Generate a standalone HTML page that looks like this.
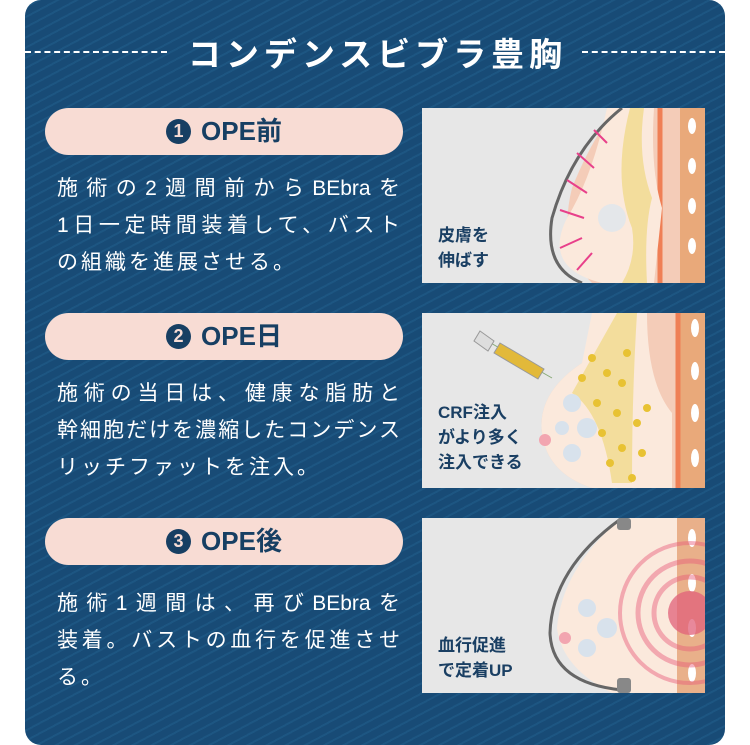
<!DOCTYPE html>
<html><head><meta charset="utf-8"><style>
*{margin:0;padding:0;box-sizing:border-box}
body{width:750px;height:735px;background:#fff;position:relative;overflow:hidden;font-family:"Liberation Sans","Noto Sans CJK JP",sans-serif}
.panel{position:absolute;left:25px;top:0;width:700px;height:745px;border-radius:16px;background:repeating-linear-gradient(-28deg,#184b76 0 7px,#1d5682 7px 9px);}
.title{position:absolute;left:0;width:750px;top:28px;text-align:center;color:#fff;font-size:33px;font-weight:bold;letter-spacing:5px;padding-left:5px}
.dash{position:absolute;top:51px;height:0;border-top:2px dashed #fff}
.pill{position:absolute;left:45px;width:358px;height:47px;border-radius:24px;background:#f8dcd4;color:#173f63;font-size:26px;font-weight:bold;text-align:center;line-height:47px}
.pill b{display:inline-block;width:25px;height:25px;border-radius:50%;background:#173f63;color:#f8dcd4;font-size:18px;line-height:25px;vertical-align:3px;margin-right:10px}
.txt{position:absolute;left:57px;width:343px;color:#fff;font-size:21px;line-height:37px}
.txt div{text-align:justify;text-align-last:justify;text-justify:inter-character;white-space:nowrap}
.txt div.l{text-align-last:left;letter-spacing:3px}
.img{position:absolute;left:422px;width:283px;height:175px;background:#e7e7e7;overflow:hidden}
.lab{position:absolute;left:16px;color:#1a3f63;font-size:17px;font-weight:bold;line-height:25px}
</style></head><body>
<div class="panel"></div>
<div class="dash" style="left:25px;width:142px"></div>
<div class="dash" style="left:582px;width:143px"></div>
<div class="title">コンデンスビブラ豊胸</div>

<div class="pill" style="top:108px"><b>1</b>OPE前</div>
<div class="txt" style="top:170px"><div>施術の2週間前からBEbraを</div><div>1日一定時間装着して、バスト</div><div class="l">の組織を進展させる。</div></div>
<div class="img" style="top:108px">
<svg width="283" height="175">
<rect x="230" y="0" width="53" height="175" fill="#e9a97a"/>
<g fill="#fff">
<ellipse cx="270" cy="18" rx="4" ry="8"/><ellipse cx="270" cy="58" rx="4" ry="8"/><ellipse cx="270" cy="98" rx="4" ry="8"/><ellipse cx="270" cy="138" rx="4" ry="8"/></g>
<path d="M195 0 L258 0 L258 175 L170 175 Q135 140 150 80 Q170 30 195 0Z" fill="#f4ccb8"/>
<path d="M238 0 L238 175" stroke="#ef7f55" stroke-width="5"/>
<path d="M185 0 L232 0 Q228 60 240 100 L232 175 L180 175 Q120 160 145 110 Q170 70 185 0Z" fill="#fbe9dc"/>
<path d="M208 0 Q190 70 210 120 Q215 150 200 175 L225 175 Q222 120 230 90 Q215 50 222 0Z" fill="#f3dd9c"/>
<circle cx="190" cy="110" r="14" fill="#dfe6ee" opacity=".8"/>
<path d="M200 0 Q150 40 130 110 Q122 160 160 175" fill="none" stroke="#666" stroke-width="3"/>
<g stroke="#e8408a" stroke-width="2">
<line x1="185" y1="35" x2="172" y2="22"/><line x1="172" y1="60" x2="155" y2="45"/><line x1="165" y1="85" x2="145" y2="72"/><line x1="162" y1="110" x2="138" y2="102"/><line x1="160" y1="130" x2="138" y2="140"/><line x1="170" y1="145" x2="155" y2="162"/></g>
</svg>
<div class="lab" style="top:115px">皮膚を<br>伸ばす</div></div>

<div class="pill" style="top:313px"><b>2</b>OPE日</div>
<div class="txt" style="top:375px"><div>施術の当日は、健康な脂肪と</div><div>幹細胞だけを濃縮したコンデンス</div><div class="l">リッチファットを注入。</div></div>
<div class="img" style="top:313px">
<svg width="283" height="175">
<rect x="232" y="0" width="51" height="175" fill="#e9a97a"/>
<g fill="#fff"><ellipse cx="273" cy="15" rx="4" ry="9"/><ellipse cx="273" cy="58" rx="4" ry="9"/><ellipse cx="273" cy="100" rx="4" ry="9"/><ellipse cx="273" cy="145" rx="4" ry="9"/></g>
<path d="M175 0 L255 0 L255 175 L170 175 Q125 160 120 120 Q115 80 160 50Z" fill="#f4ccb8"/>
<path d="M256 0 L256 175" stroke="#ef7f55" stroke-width="5"/>
<path d="M170 0 L225 0 Q225 70 250 100 L250 175 L170 175 Q125 160 120 120 Q115 80 160 50Z" fill="#fbe9dc"/>
<path d="M195 0 L215 0 Q210 80 210 170 L190 170 Q180 100 150 80Z" fill="#f3dd9c"/>
<g fill="#e8c233"><circle cx="170" cy="45" r="4"/><circle cx="185" cy="60" r="4"/><circle cx="200" cy="70" r="4"/><circle cx="175" cy="90" r="4"/><circle cx="195" cy="100" r="4"/><circle cx="215" cy="110" r="4"/><circle cx="180" cy="120" r="4"/><circle cx="200" cy="135" r="4"/><circle cx="220" cy="140" r="4"/><circle cx="210" cy="165" r="4"/><circle cx="160" cy="65" r="4"/><circle cx="225" cy="95" r="4"/><circle cx="188" cy="150" r="4"/><circle cx="205" cy="40" r="4"/></g>
<g fill="#d8e2ec"><circle cx="150" cy="90" r="9"/><circle cx="165" cy="115" r="10"/><circle cx="150" cy="140" r="9"/><circle cx="140" cy="115" r="7"/></g>
<circle cx="123" cy="127" r="6" fill="#f2a5b0"/>
<line x1="60" y1="25" x2="130" y2="65" stroke="#8a7" stroke-width="1"/>
<path d="M78 30 L122 56 L116 66 L72 40Z" fill="#e2b93a" stroke="#999"/>
<path d="M58 18 L72 28 L66 38 L52 28Z" fill="#ddd" stroke="#999"/>
</svg>
<div class="lab" style="top:87px">CRF注入<br>がより多く<br>注入できる</div></div>

<div class="pill" style="top:518px"><b>3</b>OPE後</div>
<div class="txt" style="top:585px"><div>施術1週間は、再びBEbraを</div><div>装着。バストの血行を促進させ</div><div class="l">る。</div></div>
<div class="img" style="top:518px">
<svg width="283" height="175">
<path d="M200 0 L283 0 L283 175 L190 175 Q140 150 135 110 Q140 50 200 0Z" fill="#fbe9dc"/>
<rect x="255" y="0" width="28" height="175" fill="#e9b08a"/>
<g fill="#fff"><ellipse cx="270" cy="20" rx="4" ry="9"/><ellipse cx="270" cy="65" rx="4" ry="9"/><ellipse cx="270" cy="110" rx="4" ry="9"/><ellipse cx="270" cy="155" rx="4" ry="9"/></g>
<g fill="none" stroke="#e85a7a" opacity=".45"><circle cx="268" cy="95" r="70" stroke-width="4"/><circle cx="268" cy="95" r="52" stroke-width="5"/><circle cx="268" cy="95" r="36" stroke-width="5"/></g>
<circle cx="268" cy="95" r="22" fill="#e0607a" opacity=".75"/>
<g fill="#d8e2ec"><circle cx="165" cy="90" r="9"/><circle cx="185" cy="110" r="10"/><circle cx="165" cy="130" r="9"/></g>
<circle cx="143" cy="120" r="6" fill="#f2a5b0"/>
<path d="M200 0 Q130 50 128 115 Q130 165 200 172" fill="none" stroke="#666" stroke-width="3"/>
<rect x="195" y="0" width="14" height="12" rx="3" fill="#888"/><rect x="195" y="160" width="14" height="15" rx="3" fill="#888"/>
</svg>
<div class="lab" style="top:115px">血行促進<br>で定着UP</div></div>
</body></html>
